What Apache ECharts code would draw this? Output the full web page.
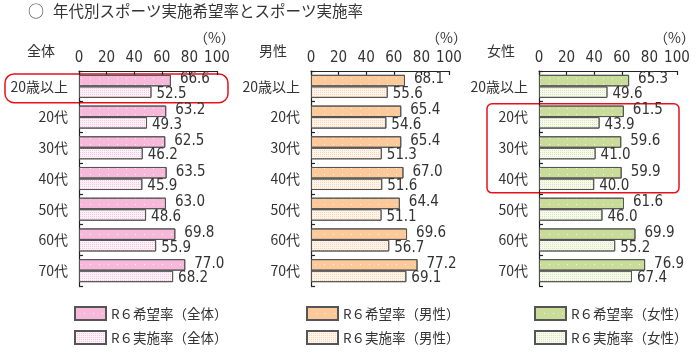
<!DOCTYPE html>
<html>
<head>
<meta charset="utf-8">
<script src="https://cdn.jsdelivr.net/npm/echarts@6/dist/echarts.min.js"></script>
<style>
  html, body { margin: 0; padding: 0; background: #fff; }
  #main { width: 700px; height: 352px; }
</style>
</head>
<body>
<div id="main"></div>
<script>
  // 年代区分
  var categories = ['20歳以上', '20代', '30代', '40代', '50代', '60代', '70代'];

  // 全体
  var allHope = [66.6, 63.2, 62.5, 63.5, 63.0, 69.8, 77.0];
  var allDone = [52.5, 49.3, 46.2, 45.9, 48.6, 55.9, 68.2];
  // 男性
  var maleHope = [68.1, 65.4, 65.4, 67.0, 64.4, 69.6, 77.2];
  var maleDone = [55.6, 54.6, 51.3, 51.6, 51.1, 56.7, 69.1];
  // 女性
  var femaleHope = [65.3, 61.5, 59.6, 59.9, 61.6, 69.9, 76.9];
  var femaleDone = [49.6, 43.9, 41.0, 40.0, 46.0, 55.2, 67.4];

  var jp = '"Noto Sans CJK JP", sans-serif';
  var num = '"Liberation Sans Narrow", "DejaVu Sans Condensed", "Noto Sans CJK JP", sans-serif';

  var panels = [
    { name: '全体', hope: allHope, done: allDone, left: 79, hopeColor: '#f7b9d9', doneColor: '#fdf2f8', doneDot: '#f6c6de' },
    { name: '男性', hope: maleHope, done: maleDone, left: 311, hopeColor: '#fcca9a', doneColor: '#fff5ec', doneDot: '#fad6b4' },
    { name: '女性', hope: femaleHope, done: femaleDone, left: 539, hopeColor: '#c9dc99', doneColor: '#f7faee', doneDot: '#d9e6b8' }
  ];
  var gridW = 138, gridTop = 71, gridH = 215;

  var chart = echarts.init(document.getElementById('main'));

  var grids = [], xAxes = [], yAxes = [], series = [], legends = [], graphics = [];

  panels.forEach(function (p, i) {
    var hopeName = 'R６希望率（' + p.name + '）';
    var doneName = 'R６実施率（' + p.name + '）';
    grids.push({ left: p.left, top: gridTop, width: gridW, height: gridH });
    xAxes.push({
      type: 'value', gridIndex: i, position: 'top', min: 0, max: 100, interval: 20,
      axisLine: { show: true, lineStyle: { color: '#222', width: 1.2 } },
      axisTick: { show: true, inside: true, length: 4, lineStyle: { color: '#222', width: 1.2 } },
      splitLine: { show: false },
      axisLabel: { color: '#333', fontSize: 15, fontFamily: num, margin: 5 }
    });
    yAxes.push({
      type: 'category', gridIndex: i, inverse: true, data: categories,
      axisLine: { show: true, lineStyle: { color: '#222', width: 1.2 } },
      axisTick: { show: true, inside: true, length: 4, lineStyle: { color: '#222', width: 1.2 } },
      axisLabel: { color: '#333', fontSize: 14, fontFamily: jp, margin: 11 }
    });
    var border = { borderColor: '#555', borderWidth: 1 };
    series.push({
      name: hopeName, type: 'bar', xAxisIndex: i, yAxisIndex: i, data: p.hope,
      barGap: '0%', barCategoryGap: '25%',
      itemStyle: Object.assign({
        color: p.hopeColor,
        decal: { symbol: 'rect', symbolSize: 1, color: 'rgba(255,255,255,0.75)', dashArrayX: [1, 8], dashArrayY: [1, 5] }
      }, border),
      label: {
        show: true, position: 'right', distance: 9, offset: [0, -1],
        color: '#333', fontSize: 15, fontFamily: num,
        formatter: function (d) { return d.value.toFixed(1); }
      }
    });
    series.push({
      name: doneName, type: 'bar', xAxisIndex: i, yAxisIndex: i, data: p.done,
      barGap: '0%', barCategoryGap: '25%',
      itemStyle: Object.assign({
        color: p.doneColor,
        decal: { symbol: 'rect', symbolSize: 1, color: p.doneDot, dashArrayX: [1, 1], dashArrayY: [1, 1] }
      }, border),
      label: {
        show: true, position: 'right', distance: 5, offset: [0, 2],
        color: '#333', fontSize: 15, fontFamily: num,
        formatter: function (d) { return d.value.toFixed(1); }
      }
    });
    // 凡例は1項目ずつ
    [hopeName, doneName].forEach(function (nm, k) {
      legends.push({
        data: [nm], left: p.left - 5, top: 306 + k * 24,
        itemWidth: 31, itemHeight: 13, icon: 'rect', padding: 0,
        selectedMode: false,
        textStyle: { color: '#333', fontSize: 13.5, fontFamily: jp }
      });
    });
    graphics.push({
      type: 'text', left: p.left - 52, top: 44,
      style: { text: p.name, font: '14px ' + jp, fill: '#333' }
    });
    graphics.push({
      type: 'text', right: 700 - (p.left + gridW + 18), top: 31,
      style: { text: '（%）', font: '14px ' + jp, fill: '#333' }
    });
  });

  graphics.push({
    type: 'text', left: 28, top: 3,
    style: { text: '○', font: '16px ' + jp, fill: '#444' }
  });
  graphics.push({
    type: 'text', left: 53, top: 3,
    style: { text: '年代別スポーツ実施希望率とスポーツ実施率', font: '15.5px ' + jp, fill: '#333' }
  });

  var option = {
    animation: false,
    grid: grids,
    xAxis: xAxes,
    yAxis: yAxes,
    legend: legends,
    series: series,
    graphic: graphics
  };
  chart.setOption(option);

  // 赤枠（注目箇所）
  var band = gridH / categories.length;
  function yOf(idx, cat) { return chart.convertToPixel({ yAxisIndex: idx }, cat); }
  var y0 = yOf(0, '20歳以上');
  var y1 = yOf(2, '20代'), y2 = yOf(2, '40代');
  graphics.push({
    type: 'rect', shape: { x: 5, y: y0 - band / 2 + 3, width: 223, height: band - 2, r: 9 },
    style: { fill: 'none', stroke: '#e8101a', lineWidth: 1.5 }
  });
  graphics.push({
    type: 'rect', shape: { x: 487, y: y1 - band / 2 + 2, width: 192, height: y2 - y1 + band - 3, r: 5 },
    style: { fill: 'none', stroke: '#e8101a', lineWidth: 1.5 }
  });
  chart.setOption({ graphic: graphics });
</script>
</body>
</html>
